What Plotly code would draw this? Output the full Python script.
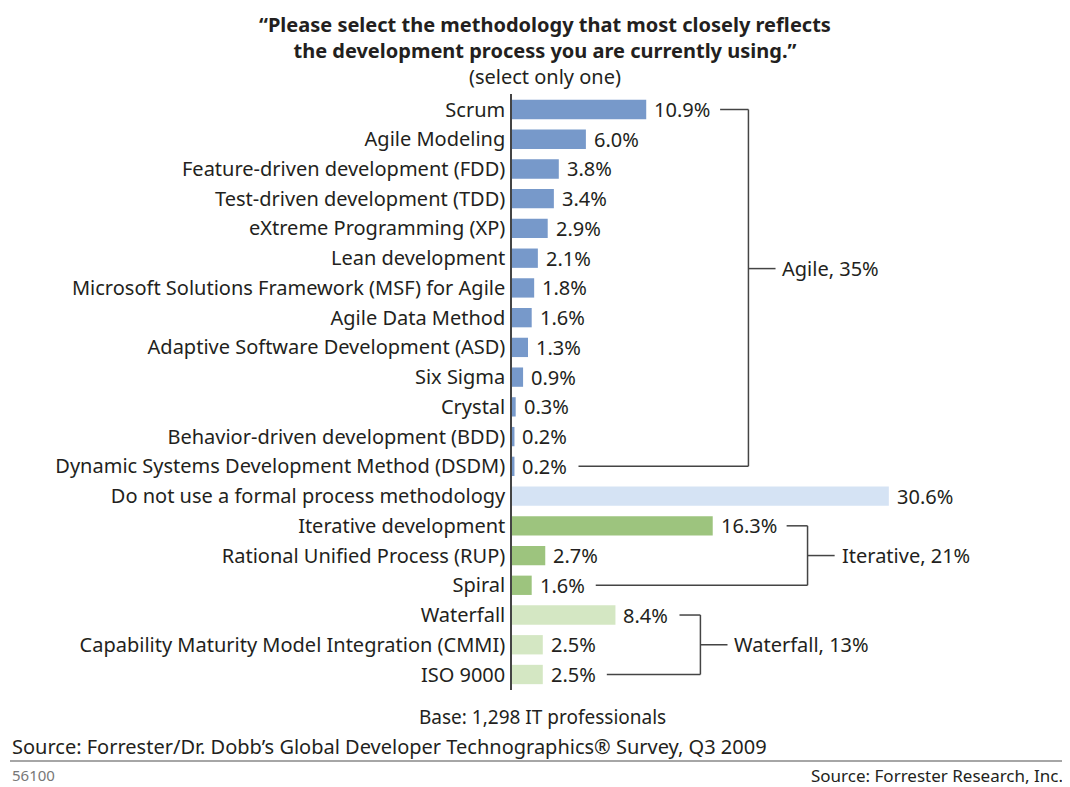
import plotly.graph_objects as go

# survey data (percent of respondents)
categories = [
    "Scrum",
    "Agile Modeling",
    "Feature-driven development (FDD)",
    "Test-driven development (TDD)",
    "eXtreme Programming (XP)",
    "Lean development",
    "Microsoft Solutions Framework (MSF) for Agile",
    "Agile Data Method",
    "Adaptive Software Development (ASD)",
    "Six Sigma",
    "Crystal",
    "Behavior-driven development (BDD)",
    "Dynamic Systems Development Method (DSDM)",
    "Do not use a formal process methodology",
    "Iterative development",
    "Rational Unified Process (RUP)",
    "Spiral",
    "Waterfall",
    "Capability Maturity Model Integration (CMMI)",
    "ISO 9000",
]
values = [10.9, 6.0, 3.8, 3.4, 2.9, 2.1, 1.8, 1.6, 1.3, 0.9, 0.3, 0.2, 0.2,
          30.6, 16.3, 2.7, 1.6, 8.4, 2.5, 2.5]
groups = ["Agile"] * 13 + ["None"] + ["Iterative"] * 3 + ["Waterfall"] * 3
group_names = ["Agile", "Iterative", "Waterfall"]
group_labels = ["Agile, 35%", "Iterative, 21%", "Waterfall, 13%"]

group_colors = {
    "Agile": "#7799CA",
    "None": "#D5E3F4",
    "Iterative": "#9DC47E",
    "Waterfall": "#D4E7C3",
}

# bracket placement (x in % units, label row as category index)
bracket_x = {"Agile": 19.2, "Iterative": 24.0, "Waterfall": 15.3}
bracket_mid = {"Agile": 5.35, "Iterative": 15.0, "Waterfall": 18.0}

TEXT = "#231F20"
FONT = "Noto Sans"

# page geometry (pixels); the page body adds an 8px offset
OFF = 8
W, H = 1070 - OFF, 787 - OFF
L, R, T, B = 504, 10, 86, 97
XMAX = 44.5


def py(p):
    # screen row -> paper y
    return (H - B - (p - OFF)) / (H - T - B)


def px(p):
    # screen column -> paper x
    return ((p - OFF) - L) / (W - L - R)


fig = go.Figure()
fig.add_trace(go.Bar(
    y=categories,
    x=values,
    orientation="h",
    marker=dict(color=[group_colors[g] for g in groups], line=dict(width=0)),
    hoverinfo="skip",
))

annotations = []
# value labels
for cat, v in zip(categories, values):
    annotations.append(dict(
        x=v, y=cat, xref="x", yref="y", text=f"{v:.1f}%",
        showarrow=False, xanchor="left", xshift=6,
        font=dict(size=20, color=TEXT, family=FONT),
    ))

shapes = []
line_style = dict(color="#444", width=1.5)
for name, label in zip(group_names, group_labels):
    idx = [i for i, g in enumerate(groups) if g == name]
    first, last = idx[0], idx[-1]
    xb = bracket_x[name]
    ymid = bracket_mid[name]
    for i in (first, last):
        start = values[i] + (6.0 if values[i] >= 10 else 5.2)
        shapes.append(dict(type="line", xref="x", yref="y",
                           x0=start, x1=xb, y0=i, y1=i, line=line_style))
    shapes.append(dict(type="line", xref="x", yref="y",
                       x0=xb, x1=xb, y0=first, y1=last, line=line_style))
    shapes.append(dict(type="line", xref="x", yref="y",
                       x0=xb, x1=xb + 2.2, y0=ymid, y1=ymid, line=line_style))
    annotations.append(dict(
        x=xb + 2.6, y=ymid, xref="x", yref="y", text=label,
        showarrow=False, xanchor="left",
        font=dict(size=20, color=TEXT, family=FONT),
    ))

# title block, one annotation so the lines don't collide
title_text = ("<b>\u201cPlease select the methodology that most closely reflects</b><br>"
              "<b>the development process you are currently using.\u201d</b><br>"
              "(select only one)")
annotations.append(dict(
    x=px(545), y=py(9), xref="paper", yref="paper", text=title_text,
    showarrow=False, xanchor="center", yanchor="top", align="center",
    font=dict(size=20, color=TEXT, family=FONT),
))

# footer
annotations += [
    dict(x=px(542), y=py(717), xref="paper", yref="paper",
         text="Base: 1,298 IT professionals", showarrow=False,
         xanchor="center", yanchor="middle",
         font=dict(size=19, color=TEXT, family=FONT)),
    dict(x=px(10), y=py(746), xref="paper", yref="paper",
         text="Source: Forrester/Dr. Dobb\u2019s Global Developer Technographics\u00ae Survey, Q3 2009",
         showarrow=False, xanchor="left", yanchor="middle",
         font=dict(size=20, color=TEXT, family=FONT)),
    dict(x=px(10), y=py(775), xref="paper", yref="paper",
         text="56100", showarrow=False, xanchor="left", yanchor="middle",
         font=dict(size=15, color="#777", family=FONT)),
    dict(x=px(1065), y=py(775), xref="paper", yref="paper",
         text="Source: Forrester Research, Inc.", showarrow=False,
         xanchor="right", yanchor="middle",
         font=dict(size=17, color=TEXT, family=FONT)),
]
shapes.append(dict(type="line", xref="paper", yref="paper",
                   x0=px(10), x1=px(1065), y0=py(761), y1=py(761),
                   line=dict(color="#888", width=1.5)))

fig.update_layout(
    width=W,
    height=H,
    margin=dict(l=L, r=R, t=T, b=B),
    paper_bgcolor="white",
    plot_bgcolor="white",
    showlegend=False,
    bargap=0.35,
    font=dict(family=FONT, color=TEXT, size=20),
    xaxis=dict(range=[0, XMAX], visible=False, fixedrange=True),
    yaxis=dict(
        type="category",
        autorange="reversed",
        showline=True,
        linecolor="#444",
        linewidth=1.5,
        ticks="",
        showgrid=False,
        ticklabelstandoff=1,
        tickfont=dict(size=20, color=TEXT, family=FONT),
    ),
    annotations=annotations,
    shapes=shapes,
)

fig.write_html("out.html")
